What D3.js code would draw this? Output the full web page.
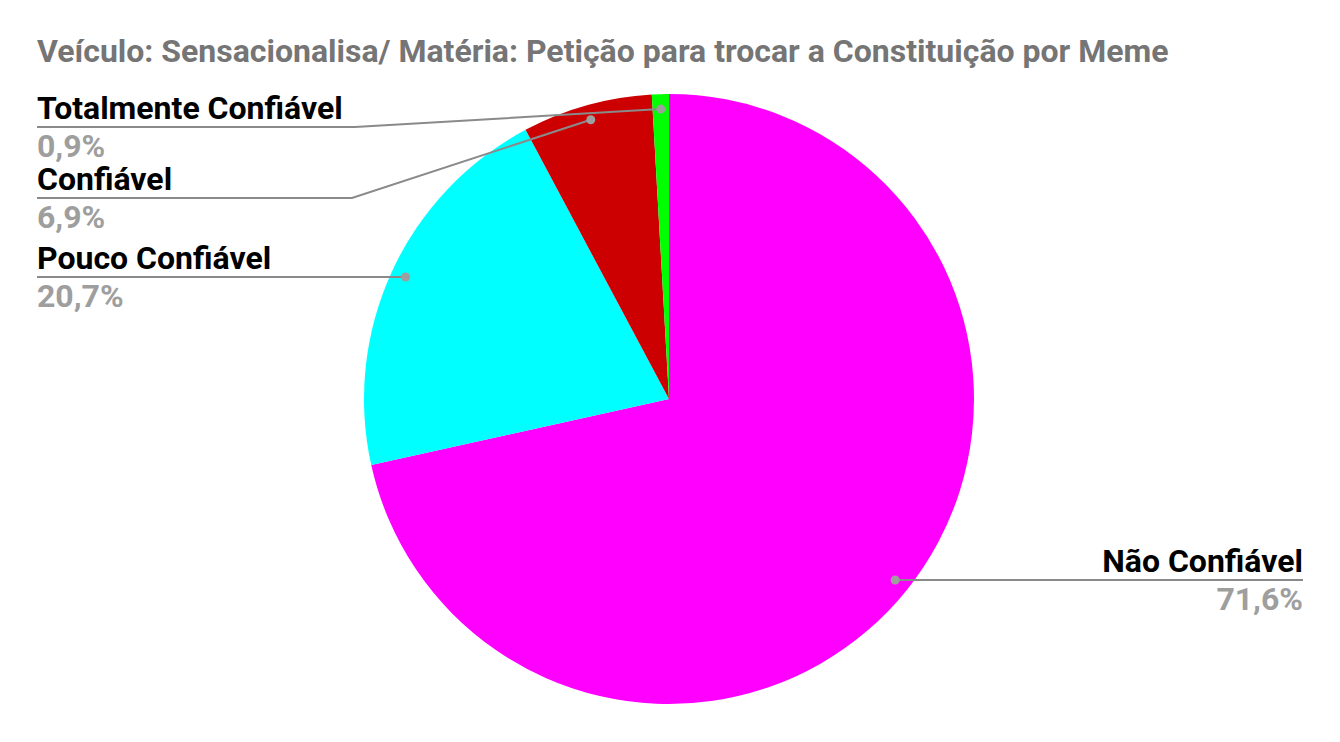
<!DOCTYPE html>
<html>
<head>
<meta charset="utf-8">
<title>Petição para trocar a Constituição por Meme</title>
<script src="https://d3js.org/d3.v7.min.js"></script>
<style>
  body { margin: 0; background: #fff; }
  svg { display: block; font-family: Roboto, "Noto Sans", sans-serif; }
</style>
</head>
<body>
<svg width="1340" height="742"></svg>
<script>
// data
var categories = ["Não Confiável", "Pouco Confiável", "Confiável", "Totalmente Confiável"];
var values = [71.6, 20.7, 6.9, 0.9];
var labels = ["71,6%", "20,7%", "6,9%", "0,9%"];
var colors = ["#ff00ff", "#00ffff", "#cc0000", "#00ff00"];
var title = "Veículo: Sensacionalisa/ Matéria: Petição para trocar a Constituição por Meme";

var svg = d3.select("svg");
var cx = 669, cy = 399, radius = 305;

svg.append("text")
    .attr("x", 37).attr("y", 62)
    .attr("font-size", 32).attr("font-weight", "bold")
    .attr("fill", "#757575")
    .text(title);

var data = categories.map(function(c, i) {
  return { name: c, value: values[i], label: labels[i], color: colors[i] };
});

var pie = d3.pie().sort(null).value(function(d) { return d.value; });
var arcs = pie(data);
var arc = d3.arc().innerRadius(0).outerRadius(radius);
var dotArc = d3.arc().innerRadius(290).outerRadius(290);

var g = svg.append("g").attr("transform", "translate(" + cx + "," + cy + ")");
g.selectAll("path")
  .data(arcs)
  .enter().append("path")
    .attr("d", arc)
    .attr("fill", function(d) { return d.data.color; });

// where each label goes
var layout = {
  "Não Confiável": { side: "right", y: 580, x: 1303 },
  "Pouco Confiável": { side: "left", y: 277, x: 37 },
  "Confiável": { side: "left", y: 198, x: 37, kink: 352 },
  "Totalmente Confiável": { side: "left", y: 127, x: 37, kink: 355 }
};

var lg = svg.append("g");
arcs.forEach(function(d) {
  var p = dotArc.centroid(d);
  var px = p[0] + cx, py = p[1] + cy;
  var L = layout[d.data.name];
  var pts;
  if (L.kink) pts = [[px, py], [L.kink, L.y], [L.x, L.y]];
  else pts = [[px, L.y], [L.x, L.y]];
  lg.append("path")
    .attr("d", d3.line()(pts))
    .attr("fill", "none")
    .attr("stroke", "#8a8a8a")
    .attr("stroke-width", 2);
  lg.append("circle")
    .attr("cx", px).attr("cy", L.kink ? py : L.y).attr("r", 4.5)
    .attr("fill", "#9e9e9e");
  var anchor = L.side === "right" ? "end" : "start";
  lg.append("text")
    .attr("x", L.x).attr("y", L.y - 8)
    .attr("text-anchor", anchor)
    .attr("font-size", 32).attr("font-weight", "bold")
    .attr("fill", "#000")
    .text(d.data.name);
  lg.append("text")
    .attr("x", L.x).attr("y", L.y + 30)
    .attr("text-anchor", anchor)
    .attr("font-size", 32).attr("font-weight", "bold")
    .attr("fill", "#9e9e9e")
    .text(d.data.label);
});
</script>
</body>
</html>
